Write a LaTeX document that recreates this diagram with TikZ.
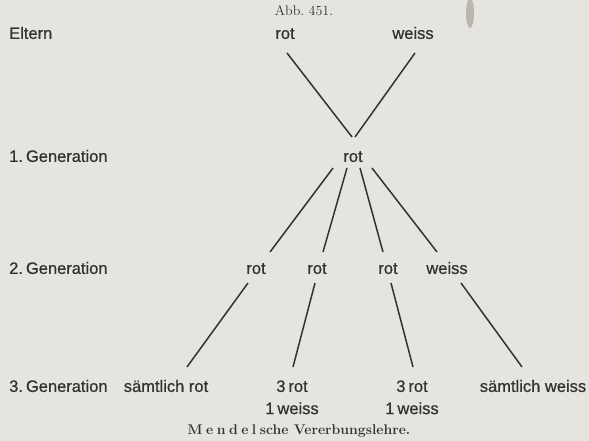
\documentclass[tikz,border=0pt]{standalone}
\usepackage{fontspec}
\newfontfamily\labelfont{Liberation Sans}[FakeBold=0.7]
\usetikzlibrary{positioning}
\definecolor{paper}{RGB}{230,228,222}
\definecolor{ink}{RGB}{50,50,50}
\definecolor{smudge}{RGB}{160,152,142}
\newcommand{\sperr}[1]{#1\kern3.5pt}
\begin{document}
\begin{tikzpicture}[x=1pt,y=-1pt,
  lbl/.style={font=\labelfont\fontsize{16.5}{20}\selectfont,text=ink,inner sep=0pt,text height=11.8pt,text depth=0pt},
  captxt/.style={font=\rmfamily,text=ink,inner sep=0pt},
  ln/.style={draw=ink,line width=1.5pt},
  node distance=10pt]
\fill[paper] (0,0) rectangle (589,441);
\useasboundingbox (0,0) rectangle (589,441);
\fill[smudge,opacity=.6] (470,13) ellipse (4 and 15);
\node[captxt,font=\rmfamily\fontsize{14}{16}\selectfont] (abb) at (304,11) {Abb.~{\addfontfeature{Numbers=OldStyle}451}.};
% Eltern
\node[lbl,anchor=west] (elt) at (9,33) {Eltern};
\node[lbl] (p1) at (285,33) {rot};
\node[lbl] (p2) at (413,33) {weiss};
% 1. Generation
\node[lbl,anchor=west] (gen1) at (9,156) {1.\kern3pt Generation};
\node[lbl] (f1) at (353,156) {rot};
% 2. Generation
\node[lbl,anchor=west] (gen2) at (9,268) {2.\kern3pt Generation};
\node[lbl] (fa) at (256,268) {rot};
\node[lbl] (fb) at (317,268) {rot};
\node[lbl] (fc) at (388,268) {rot};
\node[lbl] (fd) at (447,268) {weiss};
% 3. Generation
\node[lbl,anchor=west] (gen3) at (9,386) {3.\kern3pt Generation};
\node[lbl] (ea) at (166,386) {sämtlich rot};
\node[lbl] (eb) at (292,386) {3\kern3pt rot};
\node[lbl,below=10pt of eb] (eb2) {1\kern3pt weiss};
\node[lbl] (ec) at (412,386) {3\kern3pt rot};
\node[lbl,below=10pt of ec] (ec2) {1\kern3pt weiss};
\node[lbl] (ed) at (533,386) {sämtlich weiss};
\node[captxt,font=\rmfamily\bfseries\fontsize{14}{16}\selectfont] (title) at (299,431)
  {\sperr M\sperr e\sperr n\sperr d\sperr e\sperr lsche Vererbungslehre.};
% Linien
\draw[ln] ([xshift=2pt,yshift=-20pt]p1.center) -- ([xshift=-1pt,yshift=19pt]f1.center);
\draw[ln] ([xshift=2pt,yshift=-20pt]p2.center) -- ([xshift=2pt,yshift=19pt]f1.center);
\draw[ln] ([xshift=-20pt,yshift=-12pt]f1.center) -- ([xshift=14pt,yshift=16pt]fa.center);
\draw[ln] ([xshift=-6pt,yshift=-12pt]f1.center) -- ([xshift=6pt,yshift=16pt]fb.center);
\draw[ln] ([xshift=7pt,yshift=-12pt]f1.center) -- ([xshift=-5pt,yshift=16pt]fc.center);
\draw[ln] ([xshift=19pt,yshift=-12pt]f1.center) -- ([xshift=-10pt,yshift=16pt]fd.center);
\draw[ln] ([xshift=-8pt,yshift=-15pt]fa.center) -- ([xshift=21pt,yshift=19pt]ea.center);
\draw[ln] ([xshift=-2pt,yshift=-15pt]fb.center) -- ([xshift=1pt,yshift=19pt]eb.center);
\draw[ln] ([xshift=3pt,yshift=-15pt]fc.center) -- ([xshift=1pt,yshift=19pt]ec.center);
\draw[ln] ([xshift=14pt,yshift=-15pt]fd.center) -- ([xshift=-11pt,yshift=19pt]ed.center);
\end{tikzpicture}
\end{document}
